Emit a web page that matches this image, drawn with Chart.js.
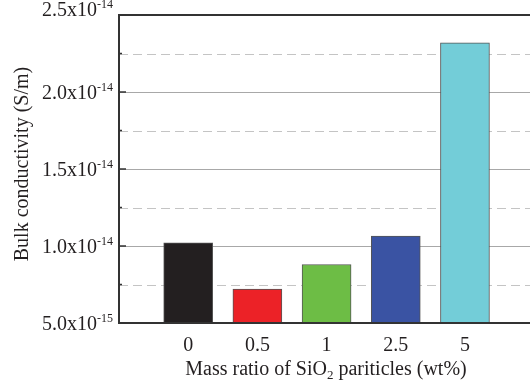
<!DOCTYPE html>
<html>
<head>
<meta charset="utf-8">
<script src="https://cdn.jsdelivr.net/npm/chart.js@4/dist/chart.umd.min.js"></script>
<style>
  body { margin: 0; background: #fff; }
  #wrap { width: 530px; height: 385px; }
</style>
</head>
<body>
<div id="wrap"><canvas id="mycanvas"></canvas></div>
<script>
// data
var categories = ['0', '0.5', '1', '2.5', '5'];
var positions = [1, 2, 3, 4, 5];
var conductivity = [1.02e-14, 7.2e-15, 8.8e-15, 1.065e-14, 2.32e-14];
var barColors = ['#231f20', '#ec2227', '#6dbd45', '#3a53a3', '#73cdd8'];

// y axis ticks
var yMajor = [5e-15, 1e-14, 1.5e-14, 2e-14, 2.5e-14];
var yMajorText = ['5.0x10', '1.0x10', '1.5x10', '2.0x10', '2.5x10'];
var yMajorExp = ['-15', '-14', '-14', '-14', '-14'];
var yMinor = [7.5e-15, 1.25e-14, 1.75e-14, 2.25e-14];

var yTitle = 'Bulk conductivity (S/m)';
var xTitle = ['Mass ratio of SiO', '2', ' pariticles (wt%)'];

var serif = "'Liberation Serif', 'Times New Roman', serif";
Chart.defaults.font.family = serif;
Chart.defaults.color = '#231f20';

var points = [];
for (var i in positions) {
    points.push({ x: positions[i], y: conductivity[i] });
}

// grid lines, frame, inward ticks and the axis texts
var decor = {
    id: 'decor',
    beforeDatasetsDraw: function(chart) {
        var ctx = chart.ctx;
        var a = chart.chartArea;
        var ys = chart.scales.y;
        ctx.save();
        ctx.lineWidth = 1;
        ctx.strokeStyle = '#a8a8a8';
        for (var i = 1; i < yMajor.length - 1; i++) {
            var y = Math.round(ys.getPixelForValue(yMajor[i])) + 0.5;
            ctx.beginPath();
            ctx.moveTo(a.left, y);
            ctx.lineTo(a.right, y);
            ctx.stroke();
        }
        ctx.strokeStyle = '#c4c4c4';
        ctx.setLineDash([9, 5]);
        for (var j in yMinor) {
            var y2 = Math.round(ys.getPixelForValue(yMinor[j])) + 0.5;
            ctx.beginPath();
            ctx.moveTo(a.left, y2);
            ctx.lineTo(a.right, y2);
            ctx.stroke();
        }
        ctx.restore();
    },
    afterDatasetsDraw: function(chart) {
        var ctx = chart.ctx;
        var a = chart.chartArea;
        var ys = chart.scales.y;
        ctx.save();
        ctx.strokeStyle = '#333';
        ctx.lineWidth = 2;
        ctx.beginPath();
        ctx.moveTo(a.right, a.top);
        ctx.lineTo(a.left, a.top);
        ctx.lineTo(a.left, a.bottom);
        ctx.lineTo(a.right, a.bottom);
        ctx.stroke();

        // inward ticks
        ctx.lineWidth = 1.5;
        for (var i in yMajor) {
            var y = ys.getPixelForValue(yMajor[i]);
            ctx.beginPath();
            ctx.moveTo(a.left, y);
            ctx.lineTo(a.left + 7, y);
            ctx.stroke();
        }
        for (var j in yMinor) {
            var y2 = ys.getPixelForValue(yMinor[j]);
            ctx.beginPath();
            ctx.moveTo(a.left, y2);
            ctx.lineTo(a.left + 3, y2);
            ctx.stroke();
        }

        // y tick labels with superscript exponent
        ctx.fillStyle = '#231f20';
        ctx.textBaseline = 'alphabetic';
        ctx.textAlign = 'left';
        for (var k in yMajor) {
            var ty = ys.getPixelForValue(yMajor[k]);
            var base = ty + 7;
            if (k == yMajor.length - 1) base = ty + 1;
            ctx.font = '20px ' + serif;
            var w1 = ctx.measureText(yMajorText[k]).width;
            ctx.font = '12px ' + serif;
            var w2 = ctx.measureText(yMajorExp[k]).width;
            var x0 = a.left - 6 - w1 - w2;
            ctx.font = '20px ' + serif;
            ctx.fillText(yMajorText[k], x0, base);
            ctx.font = '12px ' + serif;
            ctx.fillText(yMajorExp[k], x0 + w1, base - 8);
        }

        // y title
        ctx.save();
        ctx.translate(28, 164);
        ctx.rotate(-Math.PI / 2);
        ctx.font = '20px ' + serif;
        ctx.textAlign = 'center';
        ctx.fillText(yTitle, 0, 0);
        ctx.restore();

        // x title with subscript
        ctx.font = '20px ' + serif;
        var p1 = ctx.measureText(xTitle[0]).width;
        var p3 = ctx.measureText(xTitle[2]).width;
        ctx.font = '13px ' + serif;
        var p2 = ctx.measureText(xTitle[1]).width;
        var xs = 326 - (p1 + p2 + p3) / 2;
        ctx.textAlign = 'left';
        ctx.font = '20px ' + serif;
        ctx.fillText(xTitle[0], xs, 375);
        ctx.fillText(xTitle[2], xs + p1 + p2, 375);
        ctx.font = '13px ' + serif;
        ctx.fillText(xTitle[1], xs + p1, 379);
        ctx.restore();
    }
};

var ctx1 = document.getElementById('mycanvas');
var barGraph = new Chart(ctx1, {
    type: 'bar',
    data: {
        datasets: [{
            data: points,
            backgroundColor: barColors,
            borderColor: '#555',
            borderWidth: 1,
            borderSkipped: false,
            barThickness: 49
        }]
    },
    options: {
        responsive: true,
        maintainAspectRatio: false,
        animation: false,
        layout: { padding: { top: 15, left: 0, right: 0, bottom: 0 } },
        plugins: {
            legend: { display: false },
            tooltip: { enabled: false }
        },
        scales: {
            x: {
                type: 'linear',
                min: 0,
                max: 5.94,
                offset: false,
                grid: { display: false },
                border: { display: false },
                ticks: {
                    autoSkip: false,
                    maxRotation: 0,
                    padding: 3,
                    font: { size: 20 },
                    callback: function(v) {
                        var idx = positions.indexOf(v);
                        return idx >= 0 ? categories[idx] : '';
                    }
                },
                afterBuildTicks: function(scale) {
                    scale.ticks = positions.map(function(p) { return { value: p }; });
                },
                afterFit: function(scale) { scale.height = 62; }
            },
            y: {
                min: 5e-15,
                max: 2.5e-14,
                grid: { display: false },
                border: { display: false },
                ticks: { display: false, stepSize: 2.5e-15 },
                afterFit: function(scale) { scale.width = 119; }
            }
        }
    },
    plugins: [decor]
});
</script>
</body>
</html>
